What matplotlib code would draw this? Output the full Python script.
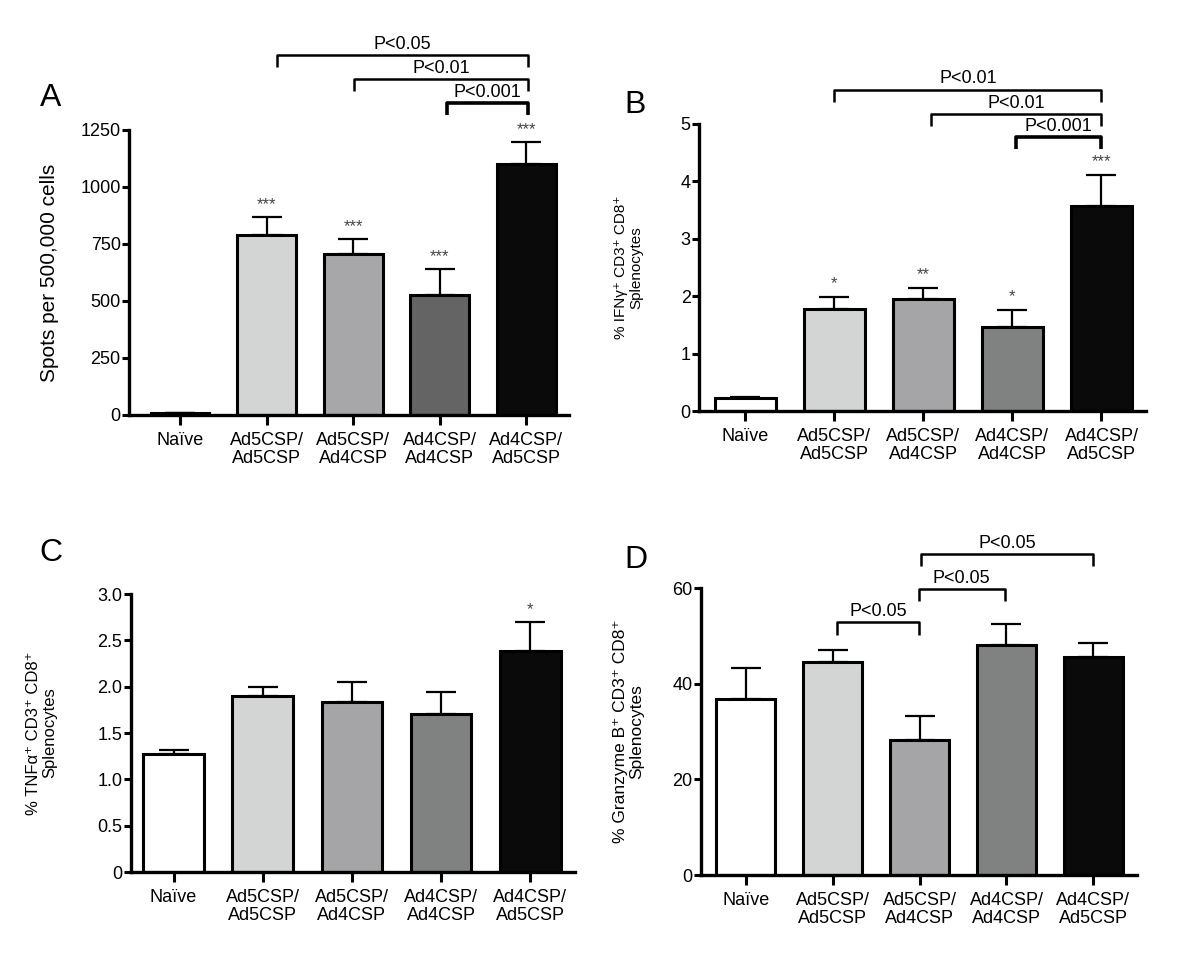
import numpy as np
import matplotlib
matplotlib.use("Agg")
import matplotlib.pyplot as plt

plt.rcParams['font.family'] = ['Liberation Sans', 'DejaVu Sans']

# grupos y datos
grupos = ['Naïve', 'Ad5CSP/\nAd5CSP', 'Ad5CSP/\nAd4CSP', 'Ad4CSP/\nAd4CSP', 'Ad4CSP/\nAd5CSP']

spots_media = [7, 787, 705, 525, 1101]
spots_err = [2, 80, 65, 114, 94]
spots_estrellas = ['', '***', '***', '***', '***']
spots_comp = [(1, 4, 'P<0.05'), (2, 4, 'P<0.01'), (3, 4, 'P<0.001')]

ifng_media = [0.22, 1.78, 1.95, 1.46, 3.57]
ifng_err = [0.03, 0.21, 0.20, 0.30, 0.55]
ifng_estrellas = ['', '*', '**', '*', '***']
ifng_comp = [(1, 4, 'P<0.01'), (2, 4, 'P<0.01'), (3, 4, 'P<0.001')]

tnfa_media = [1.27, 1.90, 1.83, 1.71, 2.39]
tnfa_err = [0.05, 0.10, 0.22, 0.23, 0.31]
tnfa_estrellas = ['', '', '', '', '*']

gzmb_media = [36.8, 44.5, 28.3, 48.0, 45.6]
gzmb_err = [6.5, 2.6, 5.0, 4.5, 3.0]
gzmb_comp = [(1, 2, 'P<0.05'), (2, 3, 'P<0.05'), (2, 4, 'P<0.05')]

colores_A = ['white', '#d3d5d5', '#a7a7aa', '#646464', '#0a0a0a']
colores = ['white', '#d3d5d5', '#a5a5a8', '#808282', '#0a0a0a']

fig = plt.figure(figsize=(12, 9.74), dpi=100)


def panel(pos, media, err, cols, ymax, yticks, yticklabels, ylabel, ylsize,
          ylx, xmin, letra, letra_pos, estrellas=None):
    ax = fig.add_axes(pos)
    x = np.arange(len(media))
    ax.bar(x, media, width=0.68, color=cols, edgecolor='black', linewidth=2.2, zorder=2)
    ax.errorbar(x, media, yerr=[np.zeros(len(err)), err], fmt='none', ecolor='black',
                elinewidth=1.6, capsize=11, capthick=1.6, zorder=1)
    ax.set_xlim(xmin, 4.5)
    ax.set_ylim(0, ymax)
    ax.set_yticks(yticks)
    ax.set_yticklabels(yticklabels, fontsize=13)
    ax.set_xticks(x)
    ax.set_xticklabels(grupos, fontsize=13, va='top', linespacing=1.1)
    for s in ['top', 'right']:
        ax.spines[s].set_visible(False)
    for s in ['left', 'bottom']:
        ax.spines[s].set_linewidth(2.4)
    ax.tick_params(axis='y', length=5, width=2.2, pad=1)
    ax.tick_params(axis='x', length=7, width=2.2, pad=5)
    ax.set_ylabel(ylabel, fontsize=ylsize, linespacing=1.1)
    ax.yaxis.set_label_coords(ylx, 0.5)
    if estrellas:
        for xi, m, e, s in zip(x, media, err, estrellas):
            if s:
                ax.text(xi, m + e + 0.045 * ymax, s, ha='center', va='center',
                        fontsize=12, color='#444444')
    fig.text(letra_pos[0], letra_pos[1], letra, fontsize=23, ha='center', va='center')
    return ax


def corchete(ax, x1, x2, y, ymax, texto, lw=1.8, dx1=0.0, dx2=0.0):
    leg = 0.042 * ymax
    xa, xb = x1 + dx1, x2 + dx2
    ax.plot([xa, xa, xb, xb], [y - leg, y, y, y - leg], color='black', lw=lw,
            clip_on=False, solid_capstyle='butt')
    ax.text((xa + xb) / 2, y + 0.038 * ymax, texto, ha='center', va='center', fontsize=13)


# A
axA = panel([0.1075, 0.574, 0.367, 0.2926], spots_media, spots_err, colores_A, 1250,
            [0, 250, 500, 750, 1000, 1250], ['0', '250', '500', '750', '1000', '1250'],
            'Spots per 500,000 cells', 15, -0.16, -0.59, 'A', (0.0425, 0.899),
            spots_estrellas)
altA = [1579, 1474, 1367]
dxA = [0.12, 0.01, 0.09]
for (a, b, t), h, d in zip(spots_comp, altA, dxA):
    corchete(axA, a, b, h, 1250, t, lw=2.6 if t == 'P<0.001' else 1.8, dx1=d, dx2=0.02)

# B
axB = panel([0.5825, 0.578, 0.3725, 0.2947], ifng_media, ifng_err, colores, 5,
            [0, 1, 2, 3, 4, 5], ['0', '1', '2', '3', '4', '5'],
            '% IFNγ⁺ CD3⁺ CD8⁺\nSplenocytes', 11, -0.125, -0.52, 'B', (0.529, 0.892),
            ifng_estrellas)
altB = [5.6, 5.17, 4.77]
dxB = [0.0, 0.09, 0.04]
for (a, b, t), h, d in zip(ifng_comp, altB, dxB):
    corchete(axB, a, b, h, 5, t, lw=2.6 if t == 'P<0.001' else 1.8, dx1=d)

# C
axC = panel([0.109, 0.1047, 0.37, 0.2854], tnfa_media, tnfa_err, colores, 3.0,
            [0, 0.5, 1.0, 1.5, 2.0, 2.5, 3.0], ['0', '0.5', '1.0', '1.5', '2.0', '2.5', '3.0'],
            '% TNFα⁺ CD3⁺ CD8⁺\nSplenocytes', 12, -0.165, -0.48, 'C', (0.0425, 0.432),
            tnfa_estrellas)

# D
axD = panel([0.584, 0.1016, 0.3633, 0.2947], gzmb_media, gzmb_err, colores, 60,
            [0, 20, 40, 60], ['0', '20', '40', '60'],
            '% Granzyme B⁺ CD3⁺ CD8⁺\nSplenocytes', 12.5, -0.13, -0.52, 'D', (0.53, 0.425))
altD = [52.8, 59.8, 67.1]
dxD = [(0.05, -0.01), (-0.01, -0.02), (0.01, 0.0)]
for (a, b, t), h, d in zip(gzmb_comp, altD, dxD):
    corchete(axD, a, b, h, 60, t, dx1=d[0], dx2=d[1])

fig.savefig('out.png', dpi=100)
